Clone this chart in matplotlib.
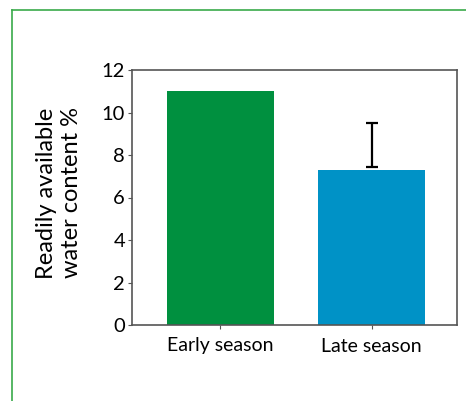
import numpy as np
from matplotlib import pyplot as plt
from matplotlib.lines import Line2D

seasons = ["Early season", "Late season"]
water = [11.0, 7.3]
err_up = [0.0, 2.2]
colours = ["#00903f", "#0092c6"]
yticks = [0, 2, 4, 6, 8, 10, 12]

plt.rcParams['font.family'] = ['Lato', 'DejaVu Sans']

fig = plt.figure(figsize=(4.66, 4.01), dpi=100)
ax = fig.add_axes([132/466, 1 - 325/401, 325/466, 255/401])

x = np.arange(len(seasons))
ax.bar(x, water, width=0.71, color=colours, zorder=2)
# only the late season has a spread, drawn upwards
ax.errorbar(x[1], water[1] + 0.15, yerr=[[0], [err_up[1] - 0.15]],
            fmt="none", ecolor="black", elinewidth=1.6, capsize=4, capthick=1.6, zorder=3)

ax.set_xlim(-0.586, 1.566)
ax.set_ylim(0, 12)
ax.set_yticks(yticks)
ax.set_xticks(x)
ax.set_xticklabels(seasons, fontsize=14)
ax.tick_params(axis="y", labelsize=14.5, length=3, color="#555555", pad=2)
ax.tick_params(axis="x", length=3, color="#555555", pad=6)
for s in ax.spines.values():
    s.set_color("#555555")
    s.set_linewidth(1.2)

fig.text(59/466, 1 - 193/401, "Readily available\nwater content %", rotation=90,
         ha="center", va="center", fontsize=17, linespacing=1.2)

# green frame on the left and top
fig.add_artist(Line2D([12/466, 12/466], [0, 1 - 10/401], transform=fig.transFigure,
                      color="#3aaa4a", lw=1.2))
fig.add_artist(Line2D([12/466, 1], [1 - 10/401, 1 - 10/401], transform=fig.transFigure,
                      color="#3aaa4a", lw=1.2))

plt.savefig("out.png", dpi=100)
